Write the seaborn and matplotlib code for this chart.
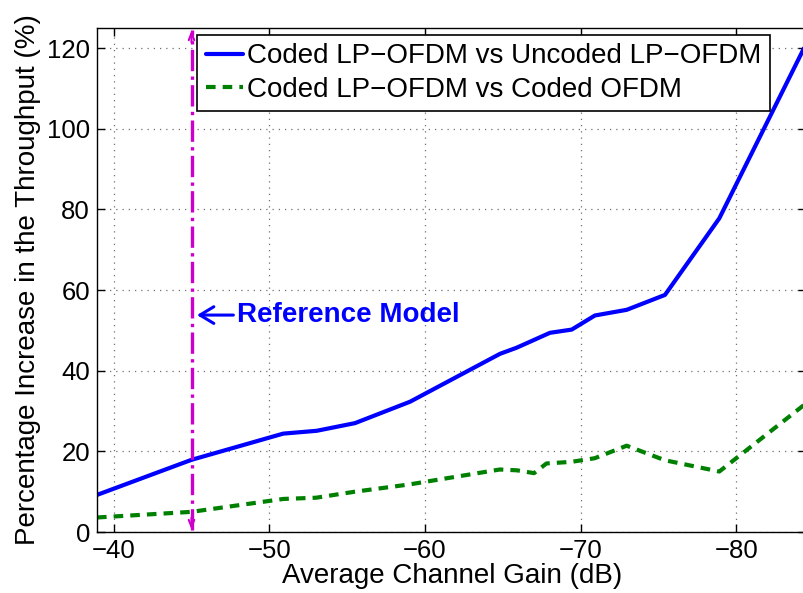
import pandas as pd
import matplotlib
matplotlib.use("Agg")
import matplotlib.pyplot as plt
import seaborn as sns

# ── Data ──────────────────────────────────────────────────
gain_lp = [-38.93, -45.0, -50.89, -53.04, -55.5, -59.03, -64.82, -65.88,
           -68.02, -69.42, -70.91, -72.95, -75.41, -78.9, -84.34]
gain_vs_uncoded = [9.2, 17.9, 24.4, 25.1, 27.0, 32.3, 44.2, 45.7,
                   49.4, 50.2, 53.7, 55.1, 58.8, 77.8, 120.0]

gain_ofdm = [-38.93, -45.0, -50.9, -53.0, -55.5, -59.0, -64.8, -65.9,
             -67.0, -67.8, -69.4, -70.9, -72.95, -75.4, -78.9, -84.34]
gain_vs_ofdm = [3.6, 5.0, 8.2, 8.5, 10.0, 11.8, 15.5, 15.3,
                14.6, 17.0, 17.4, 18.3, 21.4, 17.8, 15.0, 31.5]

REF_GAIN = -45.0
REF_SPAN = [0.6, 124.4]
REF_LABEL_Y = 53.8

x_ticks = [-40, -50, -60, -70, -80]
y_ticks = [0, 20, 40, 60, 80, 100, 120]

label_1 = "Coded LP\u2212OFDM vs Uncoded LP\u2212OFDM"
label_2 = "Coded LP\u2212OFDM vs Coded OFDM"

df1 = pd.DataFrame({"gain": gain_lp, "inc": gain_vs_uncoded})
df2 = pd.DataFrame({"gain": gain_ofdm, "inc": gain_vs_ofdm})

# ── Style ─────────────────────────────────────────────────
sns.set_style("ticks")
plt.rcParams["font.family"] = ["Liberation Sans", "DejaVu Sans"]
for k in ["text.color", "axes.labelcolor", "xtick.color", "ytick.color"]:
    plt.rcParams[k] = "black"
FS_TICK = 18.5
FS = 20

fig = plt.figure(figsize=(8.04, 5.93), dpi=100)
ax = fig.add_axes([97 / 804, 61 / 593, 709.5 / 804, 504 / 593])

sns.lineplot(data=df1, x="gain", y="inc", ax=ax, color="#0000ff", lw=3.0,
             sort=False, estimator=None, label=label_1)
sns.lineplot(data=df2, x="gain", y="inc", ax=ax, color="#008000", lw=3.0,
             sort=False, estimator=None, label=label_2, dashes=False)
ax.lines[1].set_dashes((2.3, 1.7))

# reference model marker (vertical dash-dot double arrow)
ax.plot([REF_GAIN, REF_GAIN], REF_SPAN, color="#cc00cc", lw=2.4, ls="-.")
for y0, y1 in [(REF_SPAN[1] - 3, REF_SPAN[1]), (REF_SPAN[0] + 3, REF_SPAN[0])]:
    ax.annotate("", xy=(REF_GAIN, y1), xytext=(REF_GAIN, y0),
                arrowprops=dict(arrowstyle="->,head_length=0.5,head_width=0.2",
                                color="#cc00cc", lw=1.5, shrinkA=0, shrinkB=0))

ax.annotate("Reference Model", xy=(REF_GAIN - 0.35, REF_LABEL_Y),
            xytext=(REF_GAIN - 2.9, REF_LABEL_Y), color="#0000ff",
            fontsize=FS, fontweight="bold", va="center", ha="left",
            arrowprops=dict(arrowstyle="->,head_length=0.5,head_width=0.3",
                            color="#0000ff", lw=2.2, shrinkA=0, shrinkB=0))

ax.set_xlim(-38.93, -84.5)
ax.set_ylim(0, 125)
ax.set_xticks(x_ticks)
ax.set_yticks(y_ticks)
ax.grid(True, ls=(0, (1, 4)), color="#707070", lw=0.9)
ax.tick_params(direction="in", top=True, right=True, labelsize=FS_TICK,
               length=6, width=1, pad=5)
for s in ax.spines.values():
    s.set_linewidth(1.0)
    s.set_color("black")

ax.set_xlabel("Average Channel Gain (dB)", fontsize=FS, labelpad=0)
ax.set_ylabel("Percentage Increase in the Throughput (%)", fontsize=FS,
              labelpad=4)

leg = ax.legend(loc="upper right", bbox_to_anchor=(0.9486, 0.986), fontsize=FS,
                frameon=True, fancybox=False, handlelength=1.35,
                borderpad=0.3, labelspacing=0.26, handletextpad=0.15,
                borderaxespad=0)
leg.get_frame().set_edgecolor("black")
leg.get_frame().set_linewidth(1.2)
leg.get_frame().set_alpha(1)

fig.savefig("out.png", dpi=100)
